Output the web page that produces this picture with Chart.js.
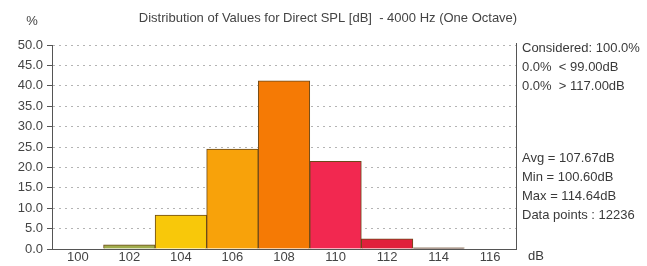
<!DOCTYPE html>
<html>
<head>
<meta charset="utf-8">
<script src="https://cdn.jsdelivr.net/npm/chart.js@4.4.0/dist/chart.umd.min.js"></script>
<style>
  html, body { margin: 0; padding: 0; background: #fff; }
  #wrap { width: 647px; height: 266px; position: relative; }
</style>
</head>
<body>
<div id="wrap"><canvas id="myChart" width="647" height="266"></canvas></div>
<script>
// values
const binLabels = ['100', '102', '104', '106', '108', '110', '112', '114', '116'];
const percentValues = [0, 1.0, 8.3, 24.5, 41.2, 21.5, 2.5, 0.3, 0];
const barColors = ['#9aa84a', '#a0ac4c', '#f8c80a', '#f8a20a', '#f57a05', '#f22850', '#e0203c', '#604040', '#604040'];
const yTicks = [0, 5, 10, 15, 20, 25, 30, 35, 40, 45, 50];

const chartTitle = 'Distribution of Values for Direct SPL [dB]  - 4000 Hz (One Octave)';
const infoTop = ['Considered: 100.0%', '0.0%  < 99.00dB', '0.0%  > 117.00dB'];
const infoBottom = ['Avg = 107.67dB', 'Min = 100.60dB', 'Max = 114.64dB', 'Data points : 12236'];

const FONT = '"Liberation Sans", Arial, sans-serif';

//----------- extra texts + right border -------------
const sidePlugin = {
  id: 'sidePlugin',
  afterDraw(chart) {
    const ctx = chart.ctx;
    const area = chart.chartArea;
    ctx.save();

    // right border
    ctx.strokeStyle = '#555';
    ctx.lineWidth = 1;
    ctx.beginPath();
    ctx.moveTo(Math.round(area.right) + 0.5, area.top - 2);
    ctx.lineTo(Math.round(area.right) + 0.5, area.bottom);
    ctx.stroke();

    ctx.fillStyle = '#444';
    ctx.font = '13px ' + FONT;
    ctx.textAlign = 'center';
    ctx.textBaseline = 'middle';
    ctx.fillText(chartTitle, 328, 18);

    ctx.fillText('%', 32, 21);

    ctx.textAlign = 'left';
    ctx.fillStyle = '#3a3a3a';
    infoTop.forEach((t, i) => ctx.fillText(t, 522, 48 + i * 19));
    infoBottom.forEach((t, i) => ctx.fillText(t, 522, 158 + i * 19));

    ctx.fillText('dB', 528, 256);
    ctx.restore();
  }
};

new Chart(document.getElementById('myChart').getContext('2d'), {
  type: 'bar',
  data: {
    labels: binLabels,
    datasets: [{
      data: percentValues,
      backgroundColor: barColors,
      borderColor: '#6b4a1a',
      borderWidth: 1,
      barPercentage: 1,
      categoryPercentage: 1
    }]
  },
  options: {
    responsive: false,
    animation: false,
    layout: { padding: { top: 45, right: 131, left: 0, bottom: 0 } },
    plugins: {
      legend: { display: false },
      title: { display: false },
      tooltip: { enabled: false }
    },
    scales: {
      x: {
        grid: { display: false, drawTicks: false, tickLength: 0 },
        border: { display: true, color: '#555', width: 1 },
        ticks: { color: '#444', font: { family: FONT, size: 13 }, padding: 1, maxRotation: 0 },
        afterFit(scale) { scale.height = 17; }
      },
      y: {
        min: 0,
        max: 50,
        afterBuildTicks(scale) { scale.ticks = yTicks.map(v => ({ value: v })); },
        grid: {
          color: '#b4b4b4',
          tickColor: '#555',
          tickLength: 5,
          drawTicks: true
        },
        border: { display: true, color: '#555', width: 1, dash: [2, 4] },
        ticks: {
          color: '#444',
          font: { family: FONT, size: 13 },
          padding: 4,
          callback: v => v.toFixed(1)
        },
        afterFit(scale) { scale.width = 52; }
      }
    }
  },
  plugins: [sidePlugin]
});
</script>
</body>
</html>
